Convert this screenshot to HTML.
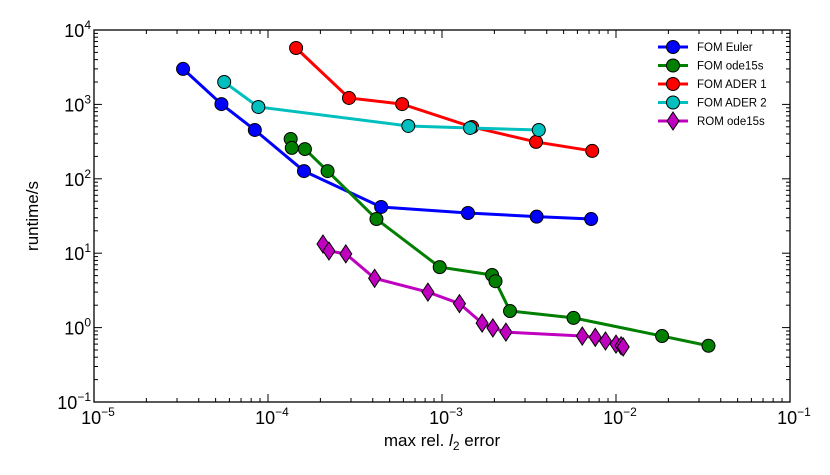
<!DOCTYPE html>
<html><head><meta charset="utf-8"><style>
html,body{margin:0;padding:0;background:#fff;}
svg{display:block;font-family:"Liberation Sans",Arial,sans-serif;}
</style></head><body>
<svg id="chart" width="830" height="475" xmlns="http://www.w3.org/2000/svg">
<g id="ticks"></g>
<g id="series"></g>
<rect x="94" y="30" width="696" height="372" fill="none" stroke="#000" stroke-width="1.3"/>
<g id="labels"></g>
<text x="442" y="446" font-size="17" text-anchor="middle">max rel. <tspan font-style="italic">l</tspan><tspan font-size="12" dy="4">2</tspan><tspan dy="-4"> error</tspan></text>
<text transform="translate(38,216) rotate(-90)" font-size="17" text-anchor="middle">runtime/s</text>
<g id="legend"></g>
</svg>
<script>
const seriesNames = ["FOM Euler","FOM ode15s","FOM ADER 1","FOM ADER 2","ROM ode15s"];
const seriesColors = ["#0000ff","#007f00","#ff0000","#00bfbf","#bf00bf"];
const eulerX = [3.25e-5,5.4e-5,8.4e-5,1.61e-4,4.47e-4,1.41e-3,3.5e-3,7.2e-3];
const eulerY = [3000,1010,453,127,41.8,34.7,31,28.8];
const ode15X = [1.35e-4,1.37e-4,1.63e-4,2.2e-4,4.2e-4,9.7e-4,1.94e-3,2.03e-3,2.46e-3,5.7e-3,1.84e-2,3.4e-2];
const ode15Y = [343,260,251,127,28.8,6.5,5.1,4.2,1.67,1.35,0.77,0.57];
const ader1X = [1.45e-4,2.92e-4,5.9e-4,1.49e-3,3.47e-3,7.3e-3];
const ader1Y = [5730,1220,1010,497,313,237];
const ader2X = [5.6e-5,8.8e-5,6.4e-4,1.45e-3,3.6e-3];
const ader2Y = [2000,923,513,482,453];
const romX = [2.07e-4,2.24e-4,2.8e-4,4.1e-4,8.3e-4,1.26e-3,1.7e-3,1.96e-3,2.33e-3,6.4e-3,7.6e-3,8.7e-3,1.0e-2,1.07e-2,1.1e-2];
const romY = [13.3,10.7,9.8,4.6,3.0,2.1,1.15,0.99,0.87,0.77,0.74,0.66,0.6,0.57,0.55];
const xTickExps = [-5,-4,-3,-2,-1];
const yTickExps = [-1,0,1,2,3,4];

const NS="http://www.w3.org/2000/svg";
const L=94,R=790,T=30,B=402;
function sx(v){return L+(Math.log10(v)+5)/4*(R-L);}
function sy(v){return B-(Math.log10(v)+1)/5*(B-T);}
function mk(tag,attrs,parent){const e=document.createElementNS(NS,tag);for(const k in attrs)e.setAttribute(k,attrs[k]);parent.appendChild(e);return e;}

const tk=document.getElementById('ticks');
const lb=document.getElementById('labels');
for(let e=-5;e<=-1;e++){
  for(let m=1;m<=9;m++){
    if(e===-1&&m>1)break;
    const x=sx(m*Math.pow(10,e));const len=m===1?8:4;
    const t1=mk('line',{x1:x,x2:x,y1:B,y2:B-len,stroke:'#000','stroke-width':1},tk);
    
    
    const t2=mk('line',{x1:x,x2:x,y1:T,y2:T+len,stroke:'#000','stroke-width':1},tk);
    
    
  }
}
for(let e=-1;e<=4;e++){
  for(let m=1;m<=9;m++){
    if(e===4&&m>1)break;
    const y=sy(m*Math.pow(10,e));const len=m===1?8:4;
    const t1=mk('line',{x1:L,x2:L+len,y1:y,y2:y,stroke:'#000','stroke-width':1},tk);
    
    
    const t2=mk('line',{x1:R,x2:R-len,y1:y,y2:y,stroke:'#000','stroke-width':1},tk);
    
    
  }
}
xTickExps.forEach(e=>{
  const t=mk('text',{x:sx(Math.pow(10,e))+4,y:424,'font-size':18,'text-anchor':'middle'},lb);
  
  
  t.innerHTML='10<tspan font-size="12" dy="-8">\u2212'+(-e)+'</tspan>';
});
yTickExps.forEach(e=>{
  const t=mk('text',{x:91,y:sy(Math.pow(10,e))+7,'font-size':18,'text-anchor':'end'},lb);
  
  
  t.innerHTML='10<tspan font-size="12" dy="-8">'+(e<0?'\u2212'+(-e):e)+'</tspan>';
});

const sg=document.getElementById('series');
const allX=[eulerX,ode15X,ader1X,ader2X,romX], allY=[eulerY,ode15Y,ader1Y,ader2Y,romY];
function marker(x,y,i,parent){
  if(i===4){
    return mk('polygon',{points:`${x},${y-9} ${x+6},${y} ${x},${y+9} ${x-6},${y}`,fill:seriesColors[i],stroke:'#000','stroke-width':1},parent);
  }
  return mk('circle',{cx:x,cy:y,r:6.5,fill:seriesColors[i],stroke:'#000','stroke-width':1},parent);
}
allX.forEach((xs,i)=>{
  const g=mk('g',{},sg);
  
  
  const pts=xs.map((v,j)=>sx(v)+','+sy(allY[i][j])).join(' ');
  const pl=mk('polyline',{points:pts,fill:'none',stroke:seriesColors[i],'stroke-width':3},g);
  
  
  xs.forEach((v,j)=>{
    const m=marker(sx(v),sy(allY[i][j]),i,g);
    
    
  });
});

const lg=document.getElementById('legend');
seriesNames.forEach((n,i)=>{
  const y=47+i*18.5;
  const g=mk('g',{},lg);
  
  
  mk('line',{x1:658,x2:688,y1:y,y2:y,stroke:seriesColors[i],'stroke-width':3},g);
  marker(673,y,i,g);
  const t=mk('text',{x:697,y:y+4,'font-size':11.5},g);
  t.textContent=n;
});
</script>
</body></html>
